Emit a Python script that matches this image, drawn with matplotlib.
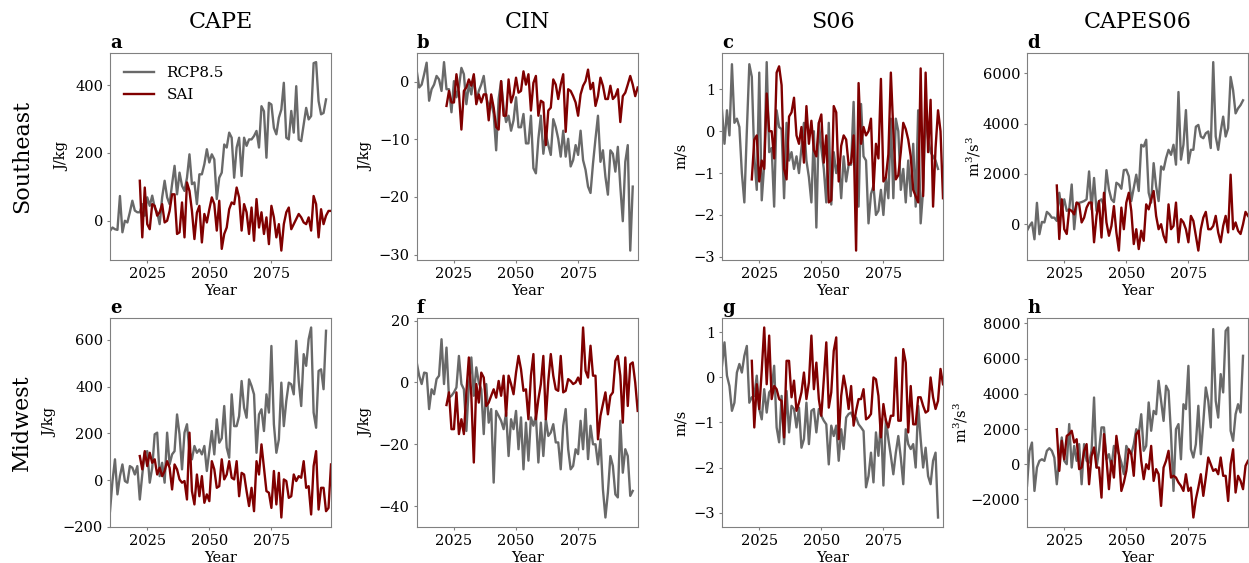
import numpy as np
import matplotlib
matplotlib.use('Agg')
import matplotlib.pyplot as plt

# years for the two experiments
years_rcp = np.arange(2010, 2098)
years_sai = np.arange(2022, 2100)

# ---- Southeast ----
cape_se_rcp = [-30, -20, -25, -27, 73, -34, 0, -5, 25, 59,
               30, 25, 25, 49, 15, 69, 44, 74, 39, 25,
               -10, 69, 118, 69, 49, 108, 162, 78, 142, 103,
               88, 127, 196, 108, 113, 49, 137, 137, 167, 211,
               172, 196, 181, 64, 127, 142, 225, 216, 260, 245,
               127, 216, 245, 132, 245, 221, 240, 240, 250, 265,
               216, 338, 323, 186, 348, 343, 274, 255, 304, 328,
               407, 245, 240, 324, 260, 397, 240, 235, 284, 333,
               299, 309, 465, 468, 353, 314, 318, 358]
cape_se_sai = [118, -49, 98, -10, -25, 49, 44, 15, 25, 49,
               -5, 0, 29, 78, 78, -39, -34, 54, -49, 113,
               88, 29, -54, 24, 44, -64, 20, -5, 34, 69,
               49, -29, 59, -83, -39, -20, 34, 54, 49, 98,
               69, -29, 49, 25, -39, 39, -59, 64, -20, 25,
               -39, 10, -69, 44, 10, -49, -10, -88, -10, 25,
               39, -25, -10, 5, 20, 10, -5, -10, 10, -29,
               73, 49, -49, 34, -10, 15, 29, 29]

cin_se_rcp = [1.9, -1.0, -0.5, 1.3, 3.3, -3.3, -1.3, -0.5, 1.0, 0.4,
              -1.6, 3.4, -1.3, -1.3, -5.3, 0.1, -2.7, -1.0, 2.4, 1.3,
              -3.9, -0.5, -2.2, 1.0, -3.3, -1.6, -0.5, 1.0, -2.7, -4.2,
              -3.6, -5.6, -11.9, -3.0, 0.1, -4.5, -7.0, -5.9, -8.5, -6.7,
              -2.7, -7.9, -7.9, -5.6, -10.7, -10.7, -5.9, -15.0, -15.9, -9.9,
              -5.9, -12.5, -9.0, -11.0, -12.7, -6.5, -7.9, -9.9, -13.0, -8.5,
              -13.0, -9.9, -14.7, -13.6, -11.0, -12.7, -8.5, -13.6, -15.3, -18.2,
              -19.3, -14.2, -9.9, -5.9, -13.9, -11.9, -16.5, -19.6, -11.9, -12.5,
              -15.6, -11.3, -18.2, -24.2, -13.9, -11.0, -29.3, -18.2]
cin_se_sai = [-4.2, -1.6, -3.6, -3.6, 1.3, -1.9, -8.3, -1.6, -1.0, 0.4,
              -0.7, 1.3, -3.9, -2.2, -3.6, -2.2, -2.2, -6.7, -2.2, -4.5,
              -7.9, -8.3, 0.1, -5.9, -5.9, 0.4, -3.6, -2.2, 0.7, -1.9,
              -1.6, 1.8, -0.5, 1.3, -5.0, -0.2, 1.0, -5.9, -3.3, -3.6,
              -11.0, -5.0, -4.5, 0.4, -0.5, -3.0, -0.5, 1.3, -8.7, -1.3,
              -1.6, -2.5, -3.6, -5.9, -2.2, -0.7, 0.1, 2.1, -1.3, -0.2,
              -4.2, -2.5, 0.7, -0.7, -3.0, -3.0, -0.7, -3.0, -2.5, -1.3,
              -7.0, -2.5, -1.9, -0.5, 1.0, -0.5, -2.5, -1.0]

s06_se_rcp = [0.5, -0.3, 0.5, -0.1, 1.6, 0.2, 0.3, 0.1, -1.0, -1.7,
              0.0, 1.6, 1.3, -0.6, -1.4, 1.4, -1.65, -0.8, 1.65, -0.5,
              -0.4, -1.8, 0.5, 0.1, 0.05, -1.6, 0.2, -0.7, -0.5, -0.9,
              -0.6, -1.0, -0.4, 0.2, -0.7, -1.1, -1.7, 0.0, -2.3, 0.2,
              -0.4, -0.9, -1.7, 0.2, -1.75, -0.5, -1.0, -0.7, -1.6, -0.6,
              -1.2, -0.8, -0.8, 0.7, -1.5, -1.8, 0.65, -0.6, -0.7, -2.2,
              -1.5, -1.3, -2.0, -1.9, -1.4, -2.0, -1.1, -1.6, 0.3, -1.6,
              0.3, 0.0, -1.4, -0.9, -1.7, -0.7, -1.55, -0.3, -1.8, 0.5,
              -2.2, -1.4, 0.5, -0.2, -0.5, -0.6, -0.7, -0.9]
s06_se_sai = [-1.15, -0.2, -0.1, -1.2, -0.7, -0.9, 0.9, 0.0, 0.0, -0.65,
              1.4, 1.55, 1.1, -0.9, -1.15, 0.35, 0.45, 0.8, -0.1, -0.3,
              0.1, -0.75, 0.6, -0.3, 0.25, -0.45, -0.6, 0.2, 0.4, -0.75,
              -0.1, -1.7, -1.65, 0.6, 0.45, -1.2, -0.35, -0.1, -0.2, -0.8,
              -0.75, -0.1, -2.85, 1.15, -0.3, 0.1, -0.1, 0.0, 0.3, -1.4,
              -0.3, -0.65, 1.25, -1.2, -1.1, -0.55, 1.4, 0.0, -1.15, -1.05,
              -0.5, 0.2, 0.05, -0.2, -0.6, -1.4, -1.55, -1.7, 1.5, -1.55,
              1.4, -0.5, 0.75, -1.8, -0.4, 0.5, 0.0, -1.6]

capes06_se_rcp = [-260, -70, 70, -600, 850, -400, 90, 70, 490, 400,
                  260, 260, 130, 1250, 530, 990, 530, 600, 1580, -200,
                  850, 850, 880, 920, 990, 2100, 590, 1840, 530, 920,
                  990, 720, 2150, 1380, 990, 880, 1650, 1580, 1410, 2150,
                  2170, 1910, 920, 1450, 1970, 1320, 3160, 3090, 3360, 1250,
                  860, 2430, 1510, 920, 2300, 2170, 2630, 2960, 2760, 3160,
                  2370, 5260, 2570, 3160, 4540, 2430, 2960, 2960, 3880, 3950,
                  3490, 3420, 3620, 3690, 3030, 6450, 3490, 2960, 3690, 4280,
                  3490, 3820, 5860, 5330, 4410, 4610, 4740, 4930]
capes06_se_sai = [1540, -590, 990, -200, -390, 590, 530, 390, 860, 790,
                  70, 260, 660, 860, 860, -720, 330, 920, -530, 1250,
                  70, -460, -70, 720, -330, -1050, 660, -200, 860, 1250,
                  530, -790, -200, -990, -260, -660, 790, 590, 990, 1320,
                  330, -200, 0, -460, -720, 790, -200, -70, 860, -720,
                  200, 70, -200, -720, 330, 130, -460, -1050, -200, 260,
                  490, -200, -200, -70, 330, -330, -720, -70, 330, -330,
                  1970, -200, 70, -260, -390, 0, 490, 330]

# ---- Midwest ----
cape_mw_rcp = [-133, -4, 89, -61, 17, 67, -4, -11, 60, 53,
               24, 60, -83, 24, 117, 124, -11, 53, 196, 203,
               17, 74, -11, 203, 67, 110, 124, 281, 196, 46,
               203, 239, 124, 89, 146, 117, 131, 110, 146, 39,
               124, 210, 110, 260, 160, 179, 317, 139, 96, 367,
               231, 231, 274, 424, 310, 267, 431, 403, 367, 117,
               281, 303, 210, 367, 289, 574, 239, 117, 174, 417,
               231, 339, 417, 410, 367, 596, 424, 317, 539, 489,
               603, 653, 289, 224, 467, 474, 389, 639]
cape_mw_sai = [103, 46, 124, 60, 117, 74, 89, 24, 53, 17,
               39, 81, 53, -40, 67, 46, 3, -11, -4, -83,
               203, -47, -104, 24, -69, 17, -97, -61, -90, 81,
               46, -33, -26, 89, 3, 24, 81, 10, 3, 81,
               -69, 31, 24, -47, -111, -33, -133, 81, 24, 153,
               53, -47, -54, -119, 39, -104, 31, -160, 3, -4,
               -76, -69, 24, -4, 17, 10, 81, -33, -26, -147,
               60, 124, -126, -33, -33, -133, -119, 67]

cin_mw_rcp = [6.5, 2.2, -0.5, 3.2, 3.0, -8.6, -2.2, -3.8, 1.1, 2.2,
              14.0, -0.5, 11.3, -4.9, -4.3, -3.2, -1.6, 8.6, -0.5, -2.2,
              -15.7, -1.1, 8.1, -4.3, 4.9, 0.0, -2.2, -16.7, -0.5, -13.0,
              -8.6, -32.4, -9.2, -10.8, -12.4, -15.1, -9.7, -23.8, -11.9, -15.1,
              -9.2, -21.6, -11.3, -28.1, -13.0, -25.3, -11.3, -14.0, -10.8, -25.9,
              -13.0, -23.8, -11.9, -17.3, -16.2, -13.5, -19.4, -19.4, -28.1, -14.0,
              -8.6, -21.6, -28.1, -27.0, -21.6, -23.2, -12.4, -21.6, -8.6, -24.8,
              -14.0, -20.0, -20.0, -26.5, -18.4, -34.6, -43.7, -35.6, -23.8, -27.0,
              -36.2, -37.2, -12.4, -29.2, -21.6, -23.8, -36.7, -35.1]
cin_mw_sai = [-7.3, -3.2, -15.1, -15.1, -3.2, -16.7, -11.9, -16.7, -3.2, 8.1,
              -4.3, -25.9, -0.5, -6.5, 3.2, 1.6, -7.6, -6.5, -4.3, -2.2,
              -4.9, 0.5, -4.3, 2.2, -10.8, 2.2, -0.5, -3.8, 3.2, 8.6,
              4.3, -2.7, -2.2, -11.9, 2.2, 9.2, -11.9, -5.4, -0.5, 8.6,
              -11.9, 0.5, 9.2, 2.2, -2.2, -2.7, 8.6, -3.2, -2.7, 1.1,
              0.5, -0.5, 0.0, 1.6, -0.5, 17.8, 3.8, 1.6, 11.9, 2.2,
              2.2, -18.4, -10.8, -7.0, -3.2, -10.3, -4.3, -3.2, 7.0, 8.6,
              2.2, -13.0, 8.1, -7.6, 5.9, 6.5, 0.0, -9.2]

s06_mw_rcp = [0.26, 0.78, 0.04, -0.19, -0.74, -0.56, 0.11, 0.30, 0.11, 0.48,
              0.70, -0.56, -0.44, -0.41, 0.04, -0.70, -0.93, -0.26, -0.78, -0.33,
              -0.26, 0.26, -1.11, -1.44, -0.41, -1.48, -0.30, -1.22, -0.63, -0.70,
              -1.11, -0.67, -1.56, -1.37, -0.56, -1.48, -0.74, -0.70, -1.22, -0.70,
              -0.85, -0.96, -1.04, -1.93, -1.07, -1.30, -1.07, -1.85, -1.15, -1.59,
              -0.89, -0.81, -0.78, -0.93, -0.89, -1.04, -1.11, -1.19, -2.44, -2.19,
              -1.67, -2.33, -1.22, -1.74, -0.93, -2.40, -0.93, -1.37, -1.74, -2.15,
              -1.67, -1.30, -1.78, -2.37, -1.15, -1.48, -1.59, -1.48, -2.00, -0.63,
              -1.37, -2.00, -1.56, -2.19, -2.37, -1.85, -1.67, -3.11]
s06_mw_sai = [0.37, -1.11, -0.15, -0.70, 0.15, 1.11, -0.15, 0.93, -0.48, -0.19,
              -0.26, -0.48, -0.52, -1.33, 0.37, 0.37, -0.44, -0.07, -0.74, -0.56,
              -0.33, 0.11, -0.48, -0.11, 0.93, -0.26, 0.33, -0.48, -0.85, -0.04,
              0.78, -0.67, -0.33, 0.59, 0.89, -1.37, -0.41, 0.04, -0.26, -0.70,
              -0.19, -1.07, -0.74, -0.48, -0.48, -0.26, -0.93, -0.89, -0.81, 0.00,
              -0.04, -0.41, -1.33, -0.59, -0.96, -1.11, -0.85, -0.85, 0.44, -0.96,
              -0.96, 0.63, 0.33, -1.22, -0.19, -1.04, -1.04, -0.44, -0.44, -0.63,
              -0.78, -0.74, 0.00, -0.44, -0.70, -0.52, 0.19, -0.15]

capes06_mw_rcp = [-1230, 760, 1230, -1520, -190, 190, 280, 190, 760, 910,
                  760, 380, -1140, 380, 1520, 190, 0, 2280, -190, 1040,
                  190, 1140, -1140, 1140, 190, 90, 760, 3790, -190, 760,
                  2090, 2090, 280, 570, -190, 1040, 850, 570, 90, -570,
                  1040, 760, 570, 1140, 1990, 1710, 2840, 760, 1040, 3510,
                  1900, 3030, 2840, 4740, 3600, 2460, 4460, 4170, 1710, -1520,
                  1990, 2280, 280, 3410, 3130, 5590, 850, 380, 1140, 3320,
                  570, 2370, 4360, 3600, 2090, 7680, 3600, 2650, 5120, 4080,
                  7580, 7770, 1900, 1330, 2840, 3410, 2940, 6160]
capes06_mw_sai = [1990, -380, 1330, 280, 1610, 1710, 1900, 1230, 1420, -280,
                  -190, 760, 1140, -1140, 470, 950, -190, -190, -1900, 1710,
                  280, -1420, 190, -760, 1610, 570, -1520, -1040, -380, 850,
                  570, -660, 1710, 1900, 190, -850, 0, -280, 1040, -950,
                  -280, -570, -2370, -190, 190, 760, -760, -660, -760, -1040,
                  -1230, -1520, -570, -1520, -1330, -3030, -1990, -1330, -570, -1800,
                  -760, 380, 0, -380, -280, -570, 380, -660, -660, -2090,
                  0, 850, -1610, -660, -950, -1420, -90, 190]

titles = ['CAPE', 'CIN', 'S06', 'CAPES06']
units = ['J/kg', 'J/kg', 'm/s', 'm$^3$/s$^3$']
regions = ['Southeast', 'Midwest']
letters = ['a', 'b', 'c', 'd', 'e', 'f', 'g', 'h']
x_ticks = [2025, 2050, 2075]
y_ticks = [[[0, 200, 400], [-30, -20, -10, 0], [-3, -2, -1, 0, 1], [0, 2000, 4000, 6000]],
           [[-200, 0, 200, 400, 600], [-40, -20, 0, 20], [-3, -2, -1, 0, 1],
            [-2000, 0, 2000, 4000, 6000, 8000]]]

rcp_rows = [[cape_se_rcp, cin_se_rcp, s06_se_rcp, capes06_se_rcp],
            [cape_mw_rcp, cin_mw_rcp, s06_mw_rcp, capes06_mw_rcp]]
sai_rows = [[cape_se_sai, cin_se_sai, s06_se_sai, capes06_se_sai],
            [cape_mw_sai, cin_mw_sai, s06_mw_sai, capes06_mw_sai]]

plt.rcParams['font.family'] = 'DejaVu Serif'
plt.rcParams['mathtext.fontset'] = 'dejavuserif'

W, H = 1249, 563
fig = plt.figure(figsize=(W / 100, H / 100), dpi=100)

# axes boxes in pixels (left, top, bottom)
col_left = [110, 416.7, 722, 1027]
ax_w = 221
row_box = [(52.7, 260), (318, 527)]

for r in range(2):
    top, bot = row_box[r]
    for c in range(4):
        ax = fig.add_axes([col_left[c] / W, 1 - bot / H, ax_w / W, (bot - top) / H])
        ax.plot(years_rcp, rcp_rows[r][c], color='dimgray', lw=1.7, label='RCP8.5')
        ax.plot(years_sai, sai_rows[r][c], color='maroon', lw=1.7, label='SAI')
        ax.set_xlim(2010, 2099)
        ax.set_xticks(x_ticks)
        ax.set_yticks(y_ticks[r][c])
        ax.set_xlabel('Year', fontsize=10.5, labelpad=2)
        # the m3/s3 label hugs the tick labels in the original
        ax.set_ylabel(units[c], fontsize=10.5, labelpad=0 if c == 3 else 4)
        for sp in ax.spines.values():
            sp.set_color('gray')
        ax.tick_params(length=2.5, pad=2.5, color='gray', labelsize=10.5)
        ax.text(0, 1.023, letters[r * 4 + c], transform=ax.transAxes,
                fontsize=13, fontweight='bold', va='baseline')
        if r == 0:
            ax.text(0.5, 1.119, titles[c], transform=ax.transAxes,
                    fontsize=16, ha='center', va='baseline')
        if r == 0 and c == 0:
            ax.legend(loc='upper left', frameon=False, fontsize=11)
    fig.text(22 / W, 1 - (top + bot) / 2 / H, regions[r], rotation=90,
             ha='center', va='center', fontsize=16)

fig.savefig('out.png', dpi=100)
